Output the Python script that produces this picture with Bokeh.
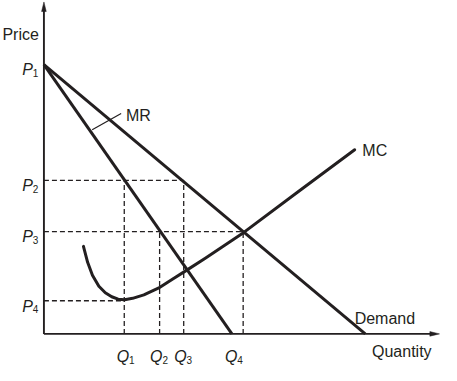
from bokeh.plotting import figure
from bokeh.models import Range1d
from bokeh.core.properties import value
from bokeh.embed import file_html
from bokeh.resources import INLINE

# ---- data (economic units) ----
price_subs = ["1", "2", "3", "4"]
price_levels = [10.0, 5.7, 3.8, 1.23]
qty_subs = ["1", "2", "3", "4"]
qty_levels = [2.5, 3.6, 4.35, 6.2]

demand_q = [0.0, 10.0]
demand_p = [10.0, 0.0]
mr_q = [0.0, 5.85]
mr_p = [10.0, 0.0]
mc_q = [1.23, 1.36, 1.51, 1.71, 1.91, 2.11, 2.31, 2.51, 2.76, 3.11, 3.61, 4.01,
        4.41, 5.01, 6.22, 7.9, 9.67]
mc_p = [3.25, 2.66, 2.18, 1.77, 1.53, 1.38, 1.29, 1.27, 1.32, 1.45, 1.73, 2.04,
        2.34, 2.8, 3.77, 5.27, 6.84]

axis_end_q = 12.31
axis_end_p = 12.33

# ---- layout helpers (reference pixel -> data units) ----
QPX = 33.3   # ref px per quantity unit
PPX = 28.1   # ref px per price unit
X0, Y0 = 45.0, 348.0  # ref px of origin
def dq(px):
    return (px - X0) / QPX
def dp(py):
    return (Y0 - py) / PPX

INK = "#231f20"
FONT = value("Liberation Sans")

p = figure(width=441, height=365, output_backend="svg", toolbar_location=None,
           x_range=Range1d(dq(0), dq(457)), y_range=Range1d(dp(381), dp(0)),
           x_axis_location=None, y_axis_location=None, min_border=0)
p.grid.visible = False
p.outline_line_color = None
p.background_fill_color = "white"

# dashed guide lines
dash = dict(line_color=INK, line_width=1.3, line_dash="5 3")
hguides = [(1, 2), (2, 3), (3, 0)]  # (price index, quantity index)
for pi, qi in hguides:
    p.line([0, qty_levels[qi]], [price_levels[pi]] * 2, **dash)
vguides = [(0, 1), (1, 2), (2, 1), (3, 2)]  # (quantity index, price index)
for qi, pi in vguides:
    p.line([qty_levels[qi]] * 2, [0, price_levels[pi]], **dash)

# curves
p.line(demand_q, demand_p, line_color=INK, line_width=3)
p.line(mr_q, mr_p, line_color=INK, line_width=3)
p.line(mc_q, mc_p, line_color=INK, line_width=3, line_join="round", line_cap="round")

# axes
p.line([0, 0], [0, axis_end_p - 0.3], line_color=INK, line_width=1.9)
p.line([0, axis_end_q - 0.25], [0, 0], line_color=INK, line_width=1.9)
hl_p, hw_q = 10 / PPX, 2.4 / QPX
p.patch([0, -hw_q, hw_q], [axis_end_p, axis_end_p - hl_p, axis_end_p - hl_p],
        fill_color=INK, line_color=INK, line_width=0.5)
hl_q, hw_p = 10 / QPX, 2.4 / PPX
p.patch([axis_end_q, axis_end_q - hl_q, axis_end_q - hl_q], [0, -hw_p, hw_p],
        fill_color=INK, line_color=INK, line_width=0.5)

# MR leader line
p.line([dq(95), dq(125)], [dp(135), dp(118)], line_color=INK, line_width=1.2)

big = "16px"
small = "10px"
txt = dict(text_color=INK, text_font=FONT, text_baseline="alphabetic")

p.text(x=[dq(2)], y=[dp(35.7)], text=["Price"], text_font_size=big, text_align="left", **txt)
p.text(x=[dq(385)], y=[dp(366.5)], text=["Quantity"], text_font_size=big, text_align="left", **txt)
p.text(x=[dq(367)], y=[dp(331.5)], text=["Demand"], text_font_size=big, text_align="left", **txt)
p.text(x=[dq(375)], y=[dp(156.5)], text=["MC"], text_font_size=big, text_align="left", **txt)
p.text(x=[dq(130)], y=[dp(120)], text=["MR"], text_font_size=big, text_align="left", **txt)

# price labels P with subscripts
for s, lv in zip(price_subs, price_levels):
    p.text(x=[dq(33.5)], y=[lv - 5.5 / PPX], text=["P"], text_font_size=big,
           text_font_style="italic", text_align="right", **txt)
    p.text(x=[dq(33.5)], y=[lv - 8.5 / PPX], text=[s], text_font_size=small,
           text_align="left", **txt)

# quantity labels Q with subscripts
q_label_shift = [5.0, 3.0, 3.0, -6.0]  # ref px, relative to the guide line
for s, lv, sh in zip(qty_subs, qty_levels, q_label_shift):
    xa = lv + sh / QPX
    p.text(x=[xa], y=[dp(372)], text=["Q"], text_font_size=big,
           text_font_style="italic", text_align="right", **txt)
    p.text(x=[xa], y=[dp(375.5)], text=[s], text_font_size=small,
           text_align="left", **txt)

open("out.html", "w").write(file_html(p, INLINE))
